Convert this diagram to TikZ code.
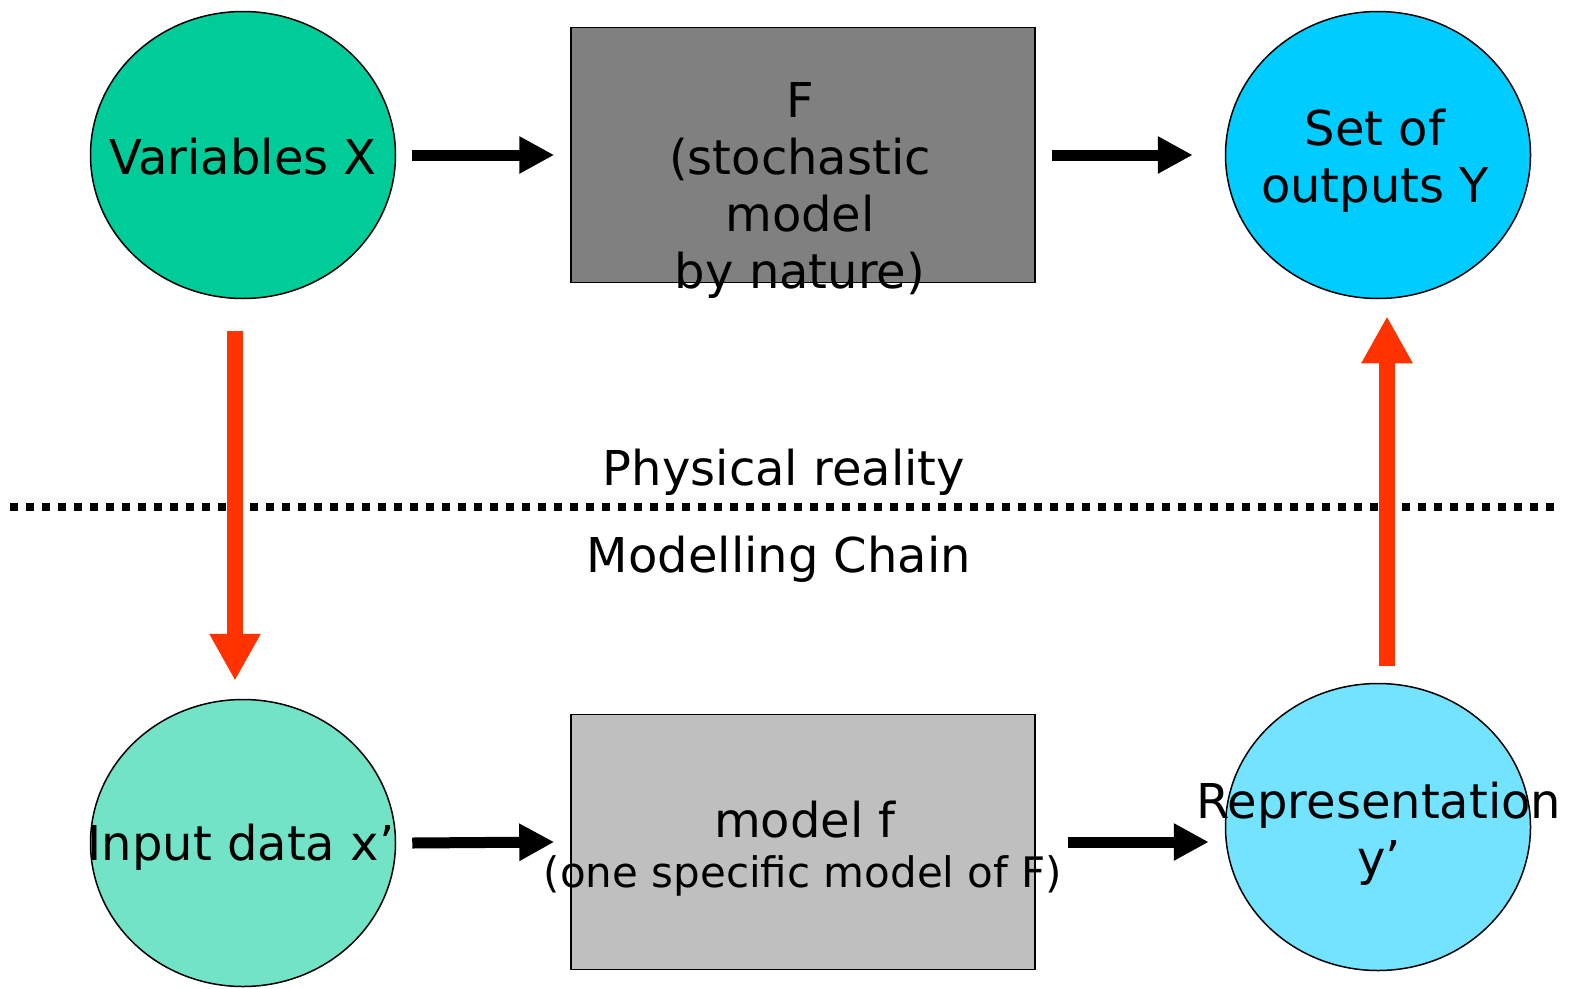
\documentclass[tikz,border=0pt]{standalone}
\usepackage{fontspec}
\setmainfont{DejaVu Sans}
\usetikzlibrary{shapes.geometric,arrows.meta}
\definecolor{cgreen}{HTML}{00CC99}
\definecolor{cblue}{HTML}{00CCFF}
\definecolor{cgray}{HTML}{808080}
\definecolor{cred}{HTML}{FF3300}
\tikzset{
  oval/.style={ellipse,draw=black,line width=1.5pt,minimum width=305pt,minimum height=287pt,inner sep=0pt},
  boxnode/.style={rectangle,draw=black,line width=1.5pt,minimum width=464pt,minimum height=255pt,inner sep=0pt},
  blkarrow/.style={line width=11pt,-{Triangle[length=35pt,width=35pt]}},
  redarrow/.style={cred,line width=16pt,-{Triangle[length=47pt,width=48pt]}},
  lbl/.style={font=\fontsize{48}{57}\selectfont,align=center,inner sep=0pt}
}
\begin{document}
\begin{tikzpicture}[x=1pt,y=-1pt]
\useasboundingbox (0,0) rectangle (1576,988);
% top row
\node[oval,fill=cgreen] (vx) at (243,155) {};
\node[lbl] (vxt) at (243,157) {Variables X};
\node[boxnode,fill=cgray] (F) at (803,155) {};
\node[lbl] (Ftxt) at (800,190) {F\\(stochastic\\model\\by nature)};
\node[oval,fill=cblue] (oy) at (1378,155) {};
\node[lbl] (oyt) at (1375,161) {Set of\\ outputs Y};
% bottom row
\node[oval,fill=cgreen!55!white] (ix) at (243,843) {};
\node[lbl] (ixt) at (241,847) {Input data x’};
\node[boxnode,fill=cgray!50!white] (f) at (803,842) {};
\node[lbl] (ftxt) at (805,820) {model f};
\node[lbl,font=\fontsize{42}{50}\selectfont] (ftxt2) at (803,876) {(one specific model of F)};
\node[oval,fill=cblue!55!white] (ry) at (1378,827) {};
\node[lbl] (ryt) at (1379,834) {Representation\\ y’};
% separator
\coordinate (dl) at (10,507);
\coordinate (dr) at (1560,507);
\draw[line width=8pt,dash pattern=on 8pt off 8pt] (dl) -- (dr);
\node[lbl] (phys) at (784,472) {Physical reality};
\node[lbl] (mod) at (779,559) {Modelling Chain};
% arrows
\draw[blkarrow] ([xshift=16pt]vx.east) -- ([xshift=-16pt]F.west);
\draw[blkarrow] ([xshift=16pt]F.east) -- ([xshift=-32pt]oy.west);
\draw[blkarrow] ([xshift=16pt]ix.east) -- ([xshift=-16pt]f.west);
\draw[blkarrow,shorten >=16pt] ([xshift=32pt]f.east) -- (ry.west |- f.east);
\draw[redarrow] ([xshift=-8pt,yshift=-32pt]vx.south) -- ([xshift=-8pt,yshift=18pt]ix.north);
\draw[redarrow] ([xshift=9pt,yshift=17pt]ry.north) -- ([xshift=9pt,yshift=-17pt]oy.south);
\end{tikzpicture}
\end{document}
